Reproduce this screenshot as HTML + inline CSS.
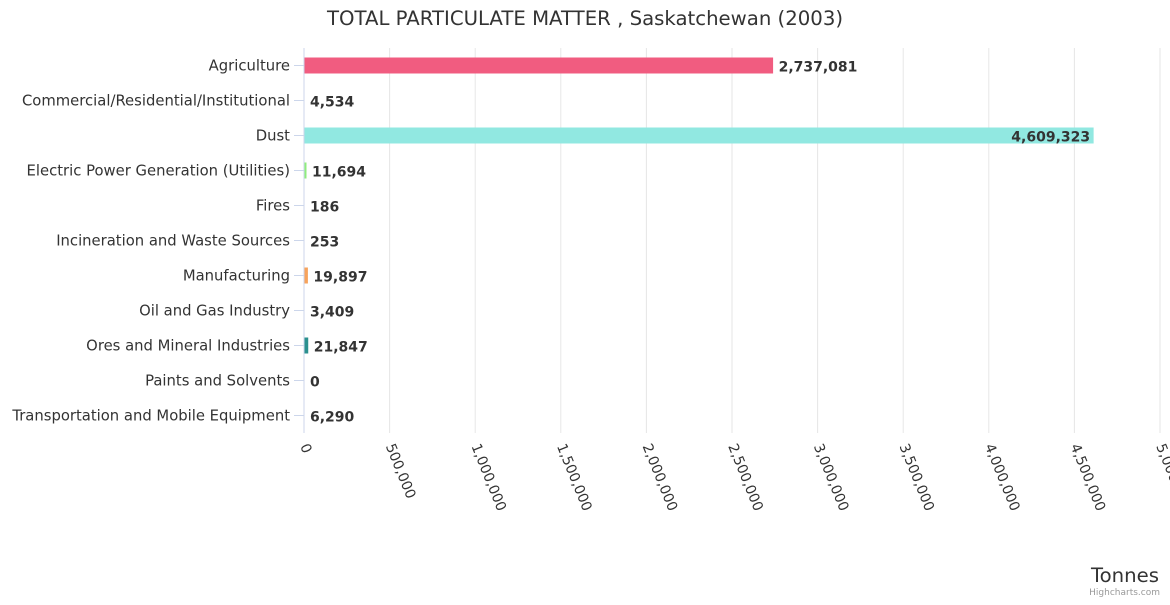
<!DOCTYPE html>
<html><head><meta charset="utf-8"><style>
body{margin:0;background:#fff;}
svg{font-family:"DejaVu Sans","Liberation Sans",sans-serif;}
</style></head><body>
<svg id="chart" width="1170" height="600">
<text x="585" y="25" text-anchor="middle" font-size="19.7" fill="#333">TOTAL PARTICULATE MATTER , Saskatchewan (2003)</text>
<g id="grid"></g><g id="bars"></g><g id="labels"></g>
<text x="1159" y="582" text-anchor="end" font-size="19.7" fill="#333">Tonnes</text>
<text x="1160" y="595" text-anchor="end" font-size="9" fill="#999">Highcharts.com</text>
</svg>
<script>
const categories=["Agriculture","Commercial/Residential/Institutional","Dust","Electric Power Generation (Utilities)","Fires","Incineration and Waste Sources","Manufacturing","Oil and Gas Industry","Ores and Mineral Industries","Paints and Solvents","Transportation and Mobile Equipment"];
const values=[2737081,4534,4609323,11694,186,253,19897,3409,21847,0,6290];
const colors=["#f15c80","#434348","#91e8e1","#90ed7d","#7cb5ec","#434348","#f7a35c","#8085e9","#2b908f","#e4d354","#f45b5b"];
const ticks=[0,500000,1000000,1500000,2000000,2500000,3000000,3500000,4000000,4500000,5000000];
const NS="http://www.w3.org/2000/svg";
const x0=304,x1=1160,yTop=48,rowH=35;
const xs=v=>x0+(v/5000000)*(x1-x0);
const yc=i=>yTop+rowH*i+rowH/2;
function mk(t,a,p){const e=document.createElementNS(NS,t);for(const k in a)e.setAttribute(k,a[k]);p.appendChild(e);return e;}
const grid=document.getElementById('grid'),bars=document.getElementById('bars'),labels=document.getElementById('labels');
ticks.forEach(t=>{
 const x=xs(t);
 const l=mk('line',{x1:x,x2:x,y1:yTop,y2:yTop+rowH*categories.length,stroke:t===0?'#ccd6eb':'#e6e6e6','stroke-width':1},grid);
 
 
 const tx=mk('text',{x:x-4,y:446,'font-size':14,fill:'#333',transform:`rotate(68 ${x-4} 446)`},labels);
 tx.textContent=t.toLocaleString('en-US');
 
 
});
categories.forEach((c,i)=>{
 const y=yc(i);
 const tk=mk('line',{x1:x0-10,x2:x0,y1:y,y2:y,stroke:'#ccd6eb'},grid);
 
 
 const t=mk('text',{x:290,y:y+5,'text-anchor':'end','font-size':14.8,fill:'#333'},labels);
 t.textContent=c;
 
 
 const w=values[i]>10000?Math.max(xs(values[i])-x0,2):0;
 const r=mk('rect',{x:x0+0.5,y:y-8,width:w,height:16,fill:colors[i]},bars);
 
 
 const end=x0+w;
 const inside=end+80>x1;
 const v=mk('text',{x:inside?end-3:end+6,y:y+6,'text-anchor':inside?'end':'start','font-size':14,'font-weight':'bold',fill:'#333'},labels);
 v.textContent=values[i].toLocaleString('en-US');
 
 
});
</script>
</body></html>
